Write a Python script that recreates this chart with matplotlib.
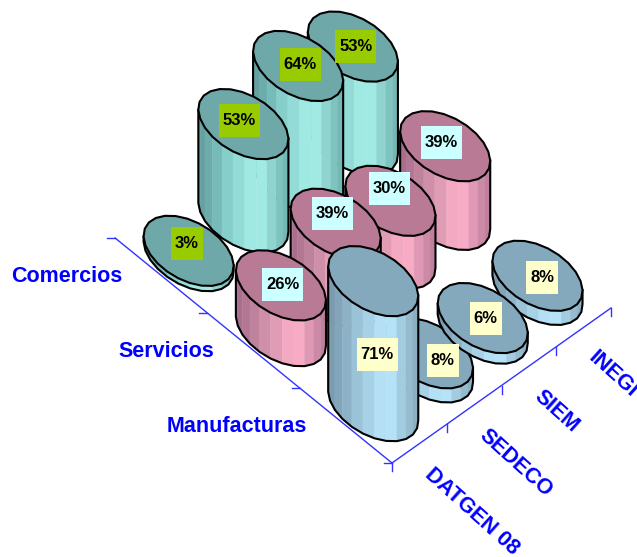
import numpy as np
import matplotlib
matplotlib.use("Agg")
import matplotlib.pyplot as plt
from matplotlib.colors import LinearSegmentedColormap
from matplotlib.patches import Polygon, Rectangle

plt.rcParams["font.family"] = ["Liberation Sans", "DejaVu Sans"]

categories = ["DATGEN 08", "SEDECO", "SIEM", "INEGI"]
series_names = ["Manufacturas", "Servicios", "Comercios"]
manufacturas = [71, 8, 6, 8]
servicios = [26, 39, 30, 39]
comercios = [3, 53, 64, 53]
series_values = [manufacturas, servicios, comercios]

# look of each series
top_colors = ["#84a8bc", "#b87a95", "#6fa8a8"]
side_stops = [["#7595aa", "#9cc4d8", "#bbeaff", "#86a8bc"],
              ["#a46a88", "#d090aa", "#ffb2ca", "#b87a98"],
              ["#5f9a9a", "#86cfcb", "#a8f2ea", "#6fb0ae"]]
box_colors = ["#ffffcc", "#ccffff", "#99cc00"]

# floor of the chart, in pixels
origin = np.array([392.0, 463.0])
step_cat = np.array([54.75, -38.75])
step_ser = np.array([-92.3, -75.0])
px_per_unit = 1.76
radius_cat = 0.46
radius_ser = 0.405
n_sides = 24
axis_blue = "#3333ff"

# excel draws this row a bit out of order, the 6% sits over the 8%
draw_order = {0: [3, 1, 2, 0], 1: [3, 2, 1, 0], 2: [3, 2, 1, 0]}
# labels dragged by hand in the original
label_nudge = {(0, 0): (4, 73), (1, 0): (15, 7), (2, 0): (3, 0), (3, 0): (5, 2),
               (0, 1): (2, -1), (1, 1): (-3, -10), (2, 1): (-1, -12), (3, 1): (-4, -4),
               (0, 2): (-2, -7), (1, 2): (-4, -4), (2, 2): (2, -1), (3, 2): (3, 0)}


def floor_point(i, j):
    return origin + (i + 0.5) * step_cat + (j + 0.5) * step_ser


def draw_cylinder(ax, i, j, value, z):
    base = floor_point(i, j)
    height = value * px_per_unit
    t = np.linspace(0, 2 * np.pi, n_sides, endpoint=False) + 0.1
    ring = np.outer(np.cos(t), radius_cat * step_cat) + np.outer(np.sin(t), radius_ser * step_ser)
    bottom = base + ring
    top = bottom - [0, height]

    # walk from the leftmost to the rightmost vertex round the front
    lo, hi = ring[:, 0].argmin(), ring[:, 0].argmax()
    step = 1 if ring[(lo + 1) % n_sides][1] > ring[(lo - 1) % n_sides][1] else -1
    idx = [lo]
    while idx[-1] != hi:
        idx.append((idx[-1] + step) % n_sides)

    cmap = LinearSegmentedColormap.from_list("side", side_stops[j])
    left, right = ring[lo, 0], ring[hi, 0]
    for k, k2 in zip(idx[:-1], idx[1:]):
        mid = (ring[k][0] + ring[k2][0]) / 2
        color = cmap((mid - left) / (right - left))
        pts = [bottom[k], bottom[k2], top[k2], top[k]]
        ax.add_patch(Polygon(pts, closed=True, fc=color, ec=color, lw=0.3, zorder=z))

    outline = np.array([top[lo]] + [bottom[k] for k in idx] + [top[hi]])
    ax.plot(outline[:, 0], outline[:, 1], color="black", lw=1.5, solid_joinstyle="round", zorder=z + 0.1)
    ax.add_patch(Polygon(top, closed=True, fc=top_colors[j], ec="black", lw=1.5,
                         joinstyle="round", zorder=z + 0.2))


def draw_label(ax, i, j, value):
    center = floor_point(i, j) - [0, value * px_per_unit]
    dx, dy = label_nudge[(i, j)]
    cx, cy = center[0] + dx, center[1] + dy
    text = f"{value}%"
    w = 14 + 9 * len(text)
    ax.add_patch(Rectangle((cx - w / 2, cy - 16.5), w, 33, fc=box_colors[j], ec="none", zorder=50))
    ax.text(cx, cy, text, ha="center", va="center", fontsize=12, fontweight="bold",
            color="black", zorder=51)


def draw_axes(ax):
    n_cat, n_ser = len(categories), len(series_names)
    ends = [origin + n_ser * step_ser, origin, origin + n_cat * step_cat]
    ax.plot([p[0] for p in ends], [p[1] for p in ends], color=axis_blue, lw=1, zorder=1)
    for j in range(n_ser + 1):
        p = origin + j * step_ser
        ax.plot([p[0] - 8, p[0]], [p[1], p[1]], color=axis_blue, lw=1, zorder=1)
    for i in range(n_cat + 1):
        p = origin + i * step_cat
        ax.plot([p[0], p[0]], [p[1], p[1] + 8], color=axis_blue, lw=1, zorder=1)
    for j, name in enumerate(series_names):
        p = origin + (j + 0.5) * step_ser
        ax.text(p[0] - 39, p[1] + 1, name, ha="right", va="center", fontsize=15.5,
                fontweight="bold", color="#0000ff")
    for i, name in enumerate(categories):
        p = origin + (i + 0.5) * step_cat
        ax.text(p[0] + 8, p[1] + 28, name, ha="left", va="center", fontsize=15.5,
                fontweight="bold", color="#0000ff", rotation=-42, rotation_mode="anchor")


fig = plt.figure(figsize=(6.37, 5.57), dpi=100)
ax = fig.add_axes([0, 0, 1, 1])
ax.set_xlim(0, 637)
ax.set_ylim(557, 0)
ax.axis("off")

draw_axes(ax)
z = 2
for j in [2, 1, 0]:
    for i in draw_order[j]:
        draw_cylinder(ax, i, j, series_values[j][i], z)
        z += 1
for j in [2, 1, 0]:
    for i in draw_order[j]:
        draw_label(ax, i, j, series_values[j][i])

fig.savefig("out.png", dpi=100)
